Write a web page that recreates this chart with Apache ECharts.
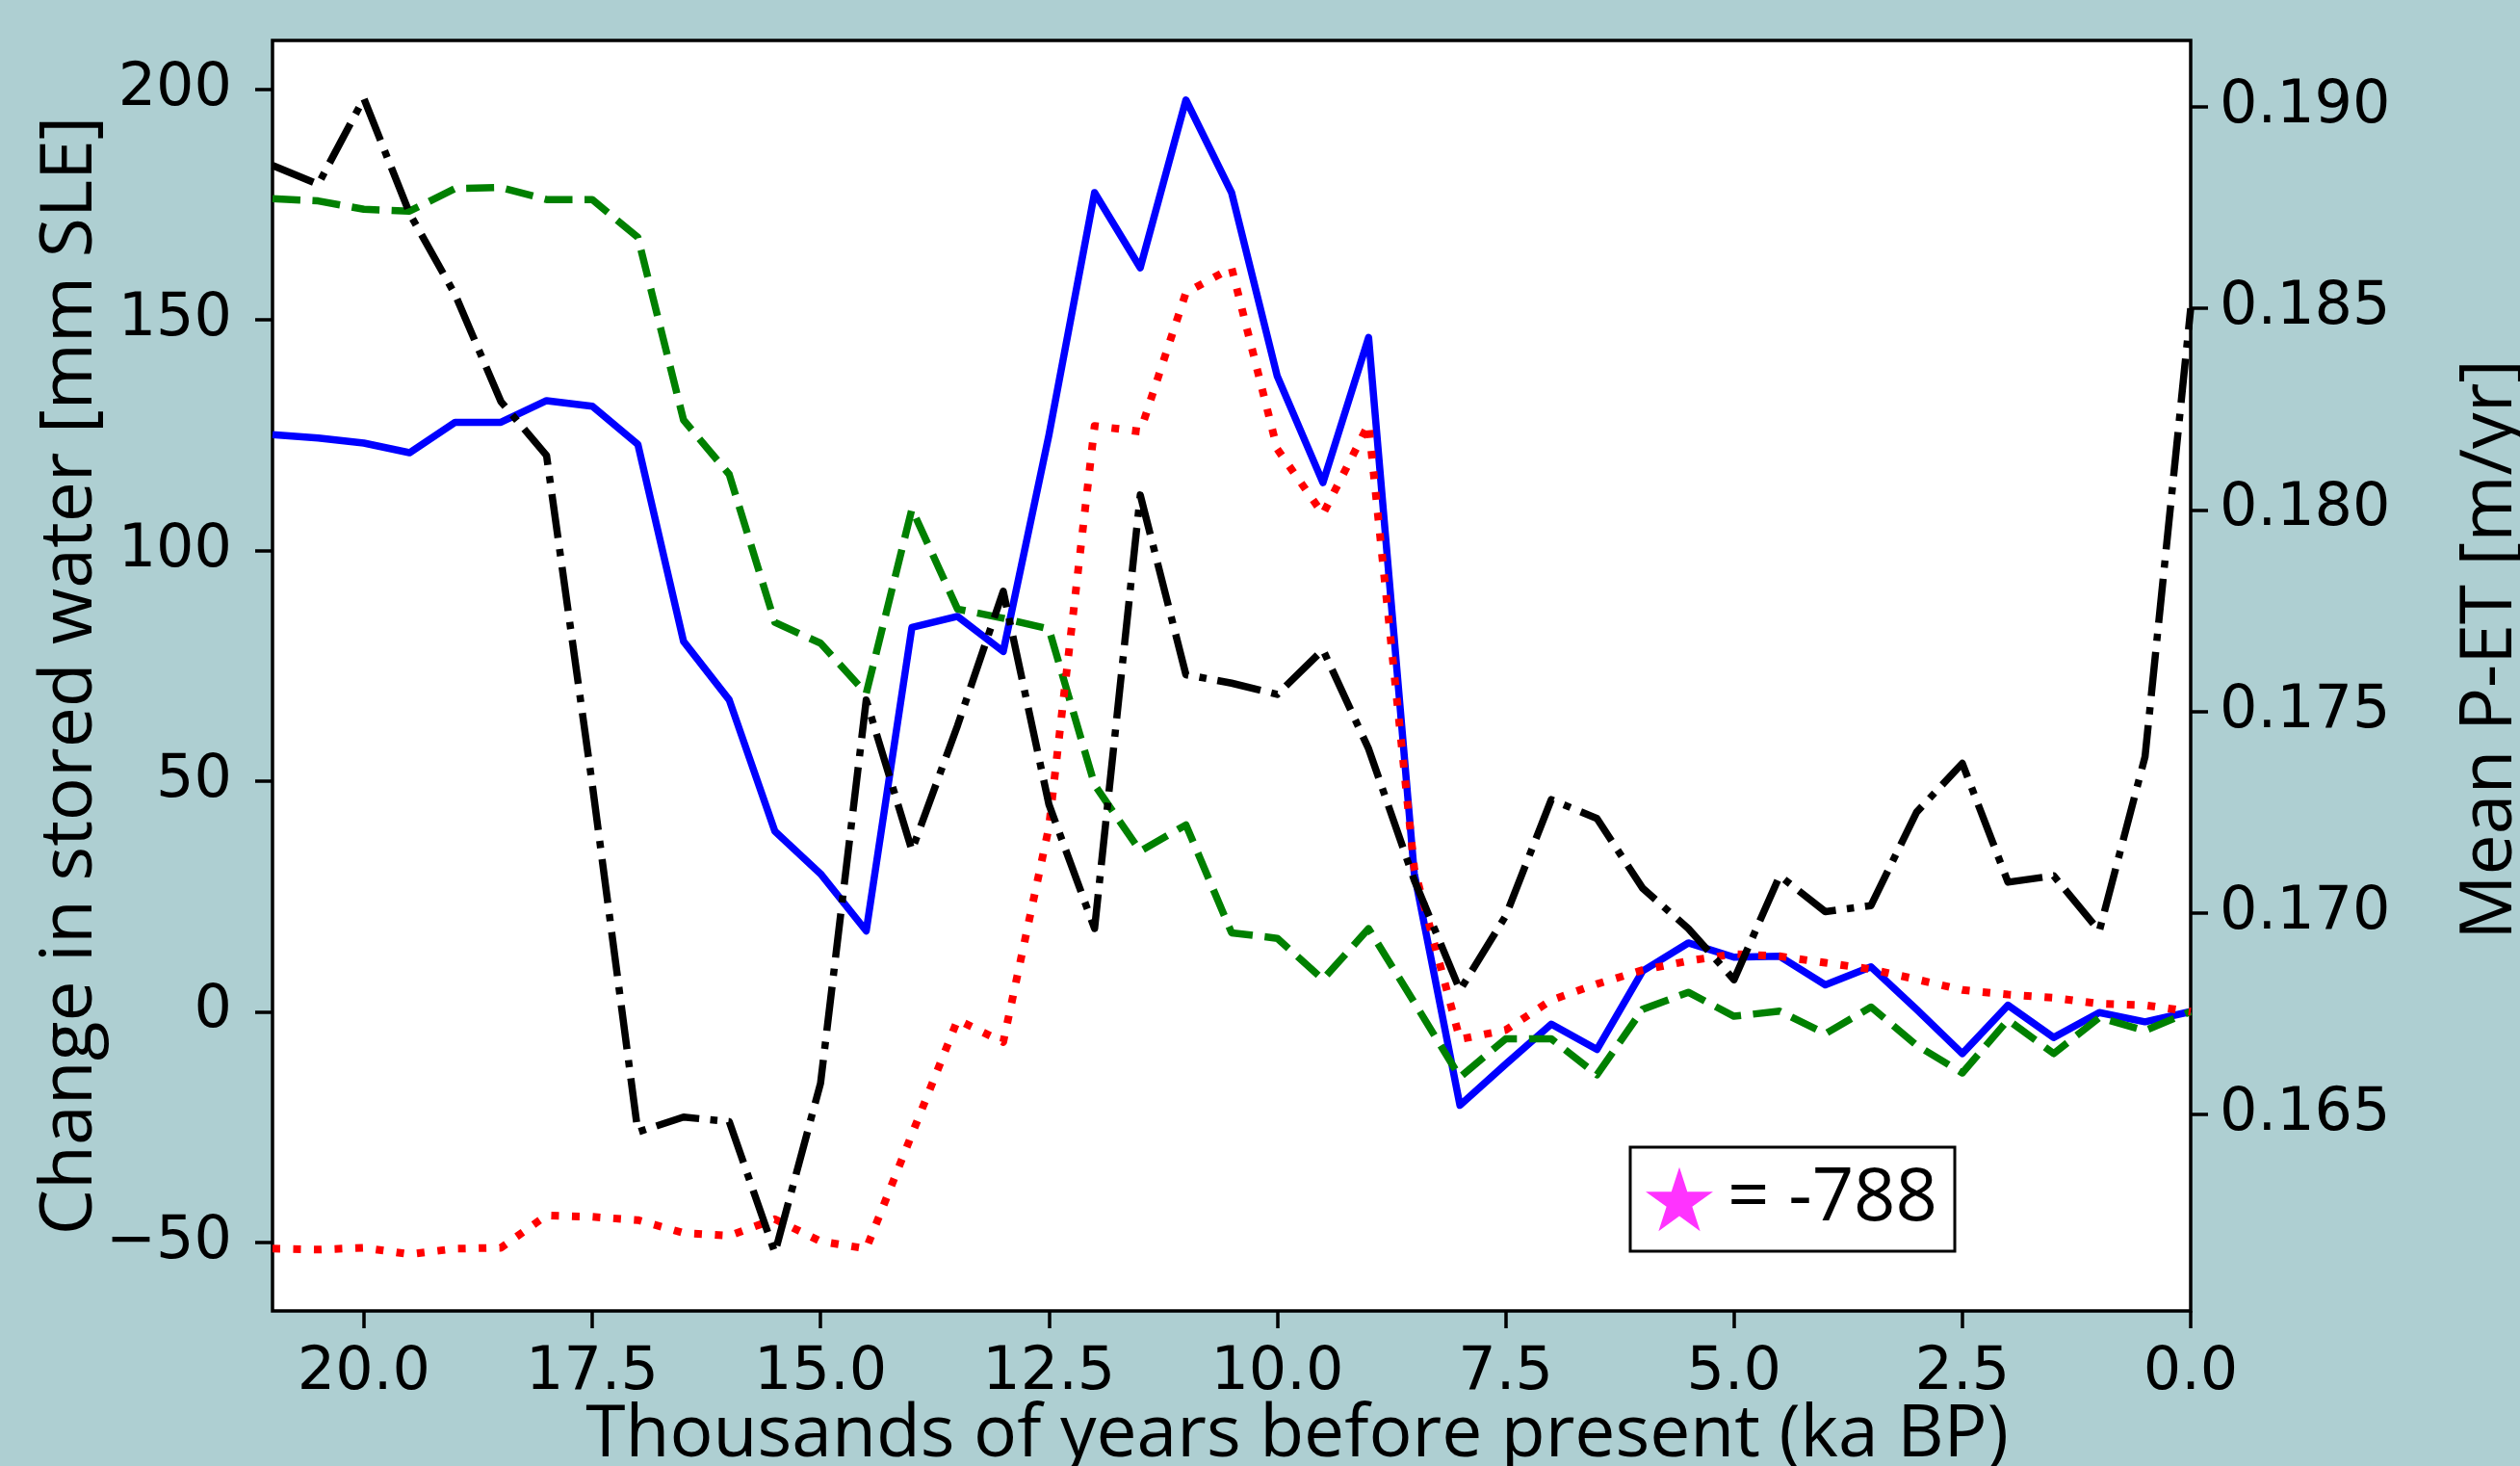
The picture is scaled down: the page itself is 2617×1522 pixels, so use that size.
<!DOCTYPE html>
<html lang="en">
<head>
<meta charset="UTF-8">
<title>Stored water and P-ET</title>
<style>
    html, body { margin: 0; padding: 0; background: #aecfd2; }
    #main { width: 2617px; height: 1522px; }
</style>
</head>
<body>
<div id="main"></div>
<script src="https://cdn.jsdelivr.net/npm/echarts@6/dist/echarts.min.js"></script>
<script>
// ka BP, one value every 500 yr
var ages = [21.0, 20.5, 20.0, 19.5, 19.0, 18.5, 18.0, 17.5, 17.0, 16.5, 16.0, 15.5, 15.0, 14.5,
    14.0, 13.5, 13.0, 12.5, 12.0, 11.5, 11.0, 10.5, 10.0, 9.5, 9.0, 8.5, 8.0, 7.5, 7.0,
    6.5, 6.0, 5.5, 5.0, 4.5, 4.0, 3.5, 3.0, 2.5, 2.0, 1.5, 1.0, 0.5, 0.0];

// change in stored water [mm SLE] (left axis)
var blueWater = [125.1, 124.4, 123.3, 121.2, 127.8, 127.8, 132.5, 131.3, 123.0, 80.3, 67.6, 39.1,
    29.9, 17.5, 83.3, 85.7, 78.1, 125.0, 177.6, 161.3, 197.7, 177.6, 137.8, 114.7, 146.2, 30.0,
    -20.3, -11.4, -2.7, -8.2, 8.8, 14.9, 11.8, 12.0, 5.8, 9.7, 0.5, -9.1, 1.4, -5.6, -0.2, -2.2, 0];
var greenWater = [176.3, 175.8, 174.0, 173.6, 178.5, 178.7, 176.1, 176.1, 167.9, 128.3, 116.5, 84.4,
    79.9, 69.0, 109.0, 87.3, 85.3, 83.0, 49.2, 34.8, 40.5, 17.1, 15.9, 7.0, 18.0, 2.0,
    -14.2, -5.9, -5.9, -13.7, 0.5, 4.2, -1.0, 0.1, -4.8, 1.0, -7.3, -13.3, -1.8, -9.1, -1.3, -4.1, 0];
var redWater = [-51.4, -51.6, -51.2, -52.6, -51.4, -51.2, -44.2, -44.5, -45.2, -48.0, -48.6, -45.0,
    -49.8, -51.4, -26.6, -1.8, -6.6, 40.0, 127.0, 125.8, 155.9, 161.3, 122.0, 107.9, 127.4, 31.0,
    -6.0, -4.0, 2.5, 6.0, 9.0, 11.0, 12.5, 12.0, 10.6, 9.2, 7.0, 4.7, 3.7, 3.0, 1.7, 1.4, 0];

// mean P-ET [m/yr] (right axis)
var petMean = [0.18855, 0.18808, 0.19021, 0.18736, 0.18534, 0.18269, 0.18135, 0.1732, 0.16456,
    0.16493, 0.16482, 0.16156, 0.16577, 0.17528, 0.17155, 0.17465, 0.17798, 0.17269, 0.16961,
    0.18037, 0.17591, 0.1757, 0.17542, 0.17653, 0.17407, 0.17081, 0.16808, 0.16992, 0.17281,
    0.17234, 0.17061, 0.16961, 0.16834, 0.17092, 0.17003, 0.17018, 0.1725, 0.17371, 0.17076,
    0.17092, 0.16955, 0.17387, 0.1850];

var xTicks = [0, 2.5, 5, 7.5, 10, 12.5, 15, 17.5, 20];
var leftTicks = [-50, 0, 50, 100, 150, 200];
var rightTicks = [0.165, 0.170, 0.175, 0.180, 0.185, 0.190];

var starMarker = 'path://M0,-1L0.2245,-0.309L0.951,-0.309L0.363,0.118L0.588,0.809L0,0.382L-0.588,0.809L-0.363,0.118L-0.951,-0.309L-0.2245,-0.309Z';

function pairs(vals) {
    return ages.map(function (a, i) { return [a, vals[i]]; });
}

var tickFont = {fontFamily: 'DejaVu Sans', fontSize: 62, color: '#000'};
var nameFont = {fontFamily: 'Open Sans', fontSize: 75, color: '#000'};
var tickLine = {show: true, length: 18, lineStyle: {color: '#000', width: 3.5}};

var chart = echarts.init(document.getElementById('main'));
chart.setOption({
    backgroundColor: '#aecfd2',
    animation: false,
    grid: {
        left: 283, right: 342, top: 42, bottom: 161,
        show: true, backgroundColor: '#fff', borderColor: '#000', borderWidth: 3.5,
        containLabel: false, outerBoundsMode: 'none'
    },
    legend: {
        left: 1693, top: 1191,
        padding: [16, 18, 16, 16],
        backgroundColor: '#fff', borderColor: '#000', borderWidth: 3, borderRadius: 0,
        itemWidth: 70, itemHeight: 67, itemGap: 0,
        selectedMode: false,
        itemStyle: {borderWidth: 0},
        textStyle: {fontFamily: 'Open Sans', fontSize: 76, color: '#000', padding: [0, 0, 0, 10]},
        data: [{name: '= -788', icon: starMarker}]
    },
    xAxis: {
        type: 'value', min: 0, max: 21, inverse: true,
        name: 'Thousands of years before present (ka BP)',
        nameLocation: 'middle', nameGap: 92, nameMoveOverlap: false,
        nameTextStyle: Object.assign({padding: [0, 0, 0, 136]}, nameFont),
        axisLine: {show: false, onZero: false},
        axisTick: Object.assign({customValues: xTicks}, tickLine),
        axisLabel: Object.assign({
            customValues: xTicks, margin: 34,
            formatter: function (v) { return v.toFixed(1); }
        }, tickFont),
        splitLine: {show: false}
    },
    yAxis: [{
        type: 'value', position: 'left', min: -64.9, max: 210.6,
        name: 'Change in stored water [mm SLE]',
        nameLocation: 'middle', nameRotate: 90, nameGap: 172, nameMoveOverlap: false,
        nameTextStyle: nameFont,
        axisLine: {show: false, onZero: false},
        axisTick: Object.assign({customValues: leftTicks}, tickLine),
        axisLabel: Object.assign({
            customValues: leftTicks, margin: 42,
            formatter: function (v) { return v < 0 ? '\u2212' + Math.abs(v) : String(v); }
        }, tickFont),
        splitLine: {show: false}
    }, {
        type: 'value', position: 'right', min: 0.16012, max: 0.19165,
        name: 'Mean P-ET [m/yr]',
        nameLocation: 'middle', nameRotate: 90, nameGap: 274, nameMoveOverlap: false,
        nameTextStyle: Object.assign({padding: [0, 0, 0, 54]}, nameFont),
        axisLine: {show: false, onZero: false},
        axisTick: Object.assign({customValues: rightTicks}, tickLine),
        axisLabel: Object.assign({
            customValues: rightTicks, margin: 30,
            formatter: function (v) { return v.toFixed(3); }
        }, tickFont),
        splitLine: {show: false}
    }],
    series: [
        {
            name: 'blue', type: 'line', yAxisIndex: 0, data: pairs(blueWater),
            showSymbol: false, symbol: 'none', silent: true, z: 2,
            lineStyle: {color: '#0000ff', width: 7.5, type: 'solid', join: 'round'}
        },
        {
            name: 'green', type: 'line', yAxisIndex: 0, data: pairs(greenWater),
            showSymbol: false, symbol: 'none', silent: true, z: 3,
            lineStyle: {color: '#008000', width: 7.5, type: [29, 12.5], cap: 'butt', join: 'round'}
        },
        {
            name: 'red', type: 'line', yAxisIndex: 0, data: pairs(redWater),
            showSymbol: false, symbol: 'none', silent: true, z: 4,
            lineStyle: {color: '#ff0000', width: 8, type: [8, 13.5], cap: 'butt', join: 'round'}
        },
        {
            name: 'black', type: 'line', yAxisIndex: 1, data: pairs(petMean),
            showSymbol: false, symbol: 'none', silent: true, z: 5,
            lineStyle: {color: '#000', width: 7.5, type: [46, 11.5, 7.5, 11.5], cap: 'butt', join: 'round'}
        },
        {
            // only here so the legend box can show the star note
            name: '= -788', type: 'scatter', yAxisIndex: 0, data: [],
            symbol: starMarker, itemStyle: {color: '#ff00ff'}
        }
    ]
});
</script>
</body>
</html>
